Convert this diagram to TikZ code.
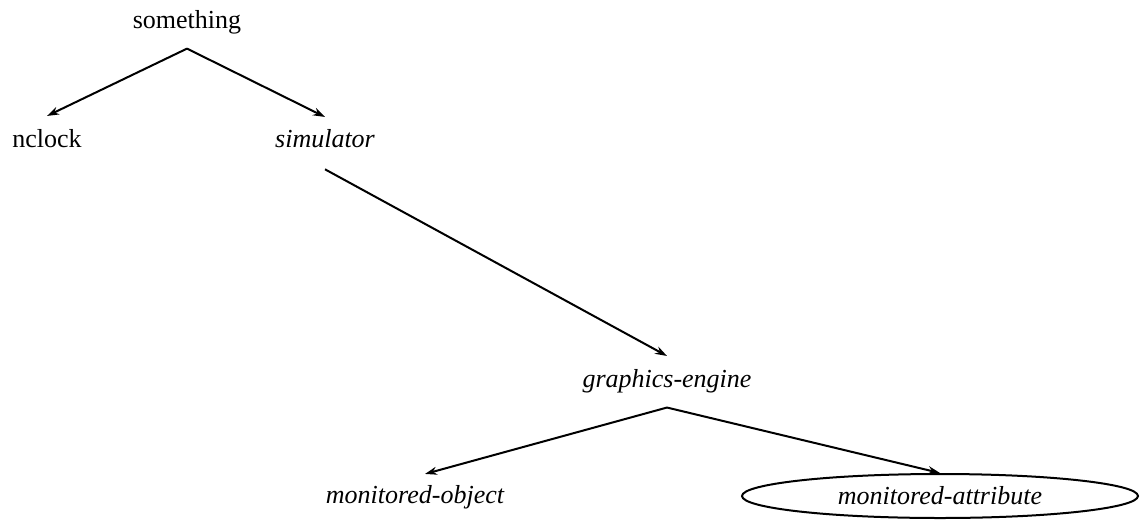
\documentclass[tikz,border=0pt]{standalone}
\usepackage{fontspec}
\setmainfont{Liberation Serif}
\usetikzlibrary{arrows.meta,shapes.geometric}

\begin{document}
\begin{tikzpicture}[
                    x=0.5pt,
                    y=-0.5pt,
                    -{Stealth[length=6pt,width=4pt]},
                    line width=1pt,
                    font=\fontsize{13}{15}\selectfont
                ]
                \tikzstyle{every node}=[
                    inner sep=2pt,
                    text=black
                ]
                \tikzstyle{frame}=[
                    ellipse,
                    draw=black,
                    minimum width=198pt,
                    minimum height=22pt
                ]

                \useasboundingbox (0,0) rectangle (1140,520);

                \node[anchor=base] (something) at (187,28) {something};
                \node[anchor=base] (nclock) at (47,147) {nclock};
                \node[anchor=base] (simulator) at (325,147) {\itshape simulator};
                \node[anchor=base] (engine) at (667,387) {\itshape graphics-engine};
                \node[anchor=base] (monobj) at (415,503) {\itshape monitored-object};
                \node[frame] (monattr) at (940,496) {\itshape monitored-attribute};

                \coordinate (something-foot) at ([yshift=-5pt]something.south);
                \coordinate (simulator-foot) at ([yshift=-8.5pt]simulator.south);
                \coordinate (engine-foot) at ([yshift=-5pt]engine.south);

                \path
                (something-foot) edge ([yshift=4pt]nclock.north)
                (something-foot) edge ([yshift=3.5pt]simulator.north)
                (simulator-foot) edge ([yshift=4pt]engine.north)
                (engine-foot) edge ([xshift=5pt,yshift=3pt]monobj.north)
                (engine-foot) edge (monattr.north)
                ;
            \end{tikzpicture}
\end{document}
